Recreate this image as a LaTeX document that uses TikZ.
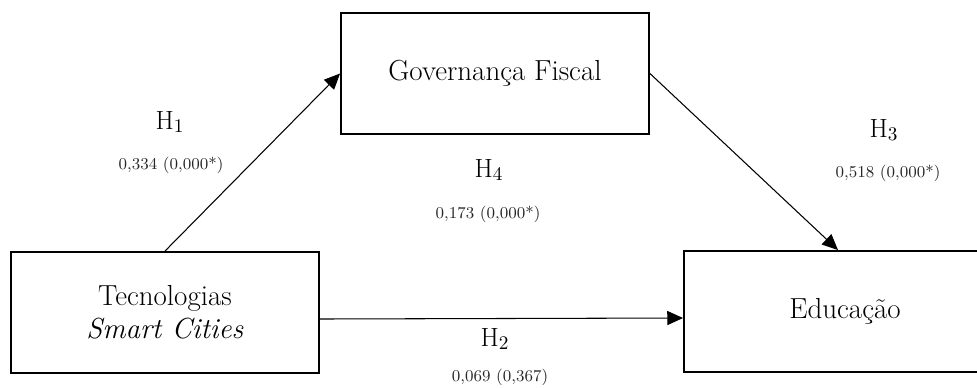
\documentclass[tikz,border=0pt]{standalone}
\usetikzlibrary{arrows.meta}
\tikzset{
  caixa/.style={draw,line width=1.1pt,minimum width=6.16cm,minimum height=2.42cm,
    align=center,font=\fontsize{16.5}{19}\selectfont},
  seta/.style={-{Triangle[length=9pt,width=8pt]},line width=0.6pt},
  hip/.style={font=\fontsize{15}{17}\selectfont},
  coef/.style={font=\fontsize{9.4}{11}\selectfont,text=black!85}
}
\begin{document}
\begin{tikzpicture}[x=0.02cm,y=-0.02cm]
  \useasboundingbox (0,0) rectangle (977,387);
  % caixas das variaveis
  \node[caixa] (gov) at (495,73.5) {Governança Fiscal};
  \node[caixa] (tec) at (165,312.5) {Tecnologias\\\textit{Smart Cities}};
  \node[caixa,minimum width=6.44cm] (edu) at (845,311.5) {Educação};
  % setas H1, H3 e H2
  \draw[seta] (tec.north) -- (gov.west);
  \draw[seta] (gov.east) -- ([xshift=-0.14cm]edu.north);
  \draw[seta] ([yshift=-0.13cm]tec.east) -- ([yshift=-0.13cm]edu.west);
  % hipoteses e coeficientes
  \node[hip] (h1) at (170,122) {H$_1$};
  \node[coef] (c1) at (171,165) {0,334 (0,000*)};
  \node[hip] (h4) at (489,170) {H$_4$};
  \node[coef] (c4) at (488,214) {0,173 (0,000*)};
  \node[hip] (h3) at (884,130) {H$_3$};
  \node[coef] (c3) at (888,173) {0,518 (0,000*)};
  \node[hip] (h2) at (495,339) {H$_2$};
  \node[coef] (c2) at (500,377) {0,069 (0,367)};
\end{tikzpicture}
\end{document}
